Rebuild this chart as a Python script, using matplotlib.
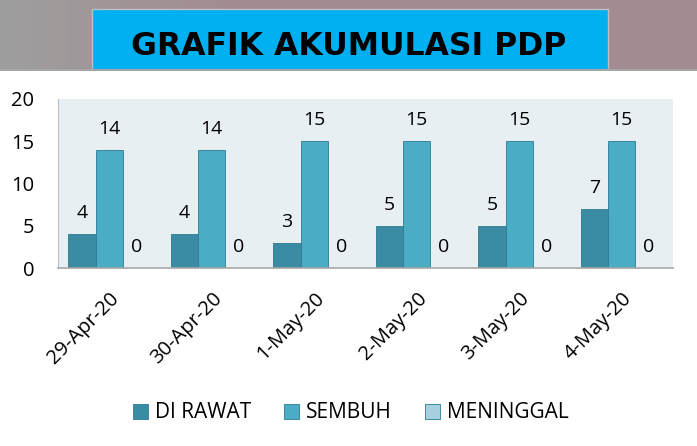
import numpy as np
import matplotlib.pyplot as plt
from matplotlib.patches import Rectangle

dates = ["29-Apr-20", "30-Apr-20", "1-May-20", "2-May-20", "3-May-20", "4-May-20"]
di_rawat = [4, 4, 3, 5, 5, 7]
sembuh = [14, 14, 15, 15, 15, 15]
meninggal = [0, 0, 0, 0, 0, 0]

series = [("DI RAWAT", di_rawat, "#3A8BA3"),
          ("SEMBUH", sembuh, "#4BACC6"),
          ("MENINGGAL", meninggal, "#A8CFE0")]

plt.rcParams['font.family'] = ['Open Sans', 'DejaVu Sans']

W, H = 697, 446
fig = plt.figure(figsize=(W / 100, H / 100), dpi=100)

# header band
band = fig.add_axes([0, 1 - 71 / H, 1, 71 / H])
cols = np.zeros((1, 256, 3))
left = np.array([0.62, 0.62, 0.62])
mid = np.array([0.64, 0.55, 0.57])
for i, t in enumerate(np.linspace(0, 1, 256)):
    w = min(t * 3, 1.0)
    cols[0, i] = left * (1 - w) + mid * w
band.imshow(cols, aspect="auto", extent=[0, 1, 0, 1])
band.set_xlim(0, 1)
band.set_ylim(0, 1)
band.axis("off")
band.add_patch(Rectangle((92 / W, 0), (608 - 92) / W, 62 / 71,
                         facecolor="#00B0F0", edgecolor="#BFBFBF", lw=1))
band.axhline(0.01, color="#A6A6A6", lw=1.5)
band.text(349 / W, 16 / 71, "GRAFIK AKUMULASI PDP", ha="center", va="baseline",
          fontsize=22.7, fontweight="bold", family="DejaVu Sans", color="black")

# main chart
ax = fig.add_axes([58 / W, 1 - 268 / H, (673 - 58) / W, (268 - 99) / H])
ax.set_facecolor("#E8EFF3")
x = np.arange(len(dates))
bw = 0.8 / 3
for i, (name, vals, c) in enumerate(series):
    pos = x - bw + i * bw
    ax.bar(pos, vals, bw, color=c, edgecolor="#2E7A90", linewidth=0.6, label=name)
    for p, v in zip(pos, vals):
        ax.text(p, v + 1.4, str(v), ha="center", va="bottom", fontsize=14)

ax.set_ylim(0, 20)
ax.set_xlim(-0.5, len(dates) - 0.5)
ax.set_yticks([0, 5, 10, 15, 20])
ax.tick_params(axis="y", length=0, labelsize=14.5, pad=17)
ax.tick_params(axis="x", length=0, labelsize=14.5, pad=15)
ax.set_xticks(x)
ax.set_xticklabels(dates, rotation=45, ha="right", rotation_mode="anchor")
for s in ["top", "right"]:
    ax.spines[s].set_visible(False)
ax.spines["left"].set_color("#BFBFBF")
ax.spines["bottom"].set_color("#A6A6A6")
ax.spines["bottom"].set_linewidth(1.2)

fig.legend(loc="center", bbox_to_anchor=(351 / W, 1 - 413 / H), ncol=3, frameon=False,
           fontsize=15, handlelength=0.7, handleheight=0.7, columnspacing=1.6, handletextpad=0.35)

fig.savefig("out.png", dpi=100)
